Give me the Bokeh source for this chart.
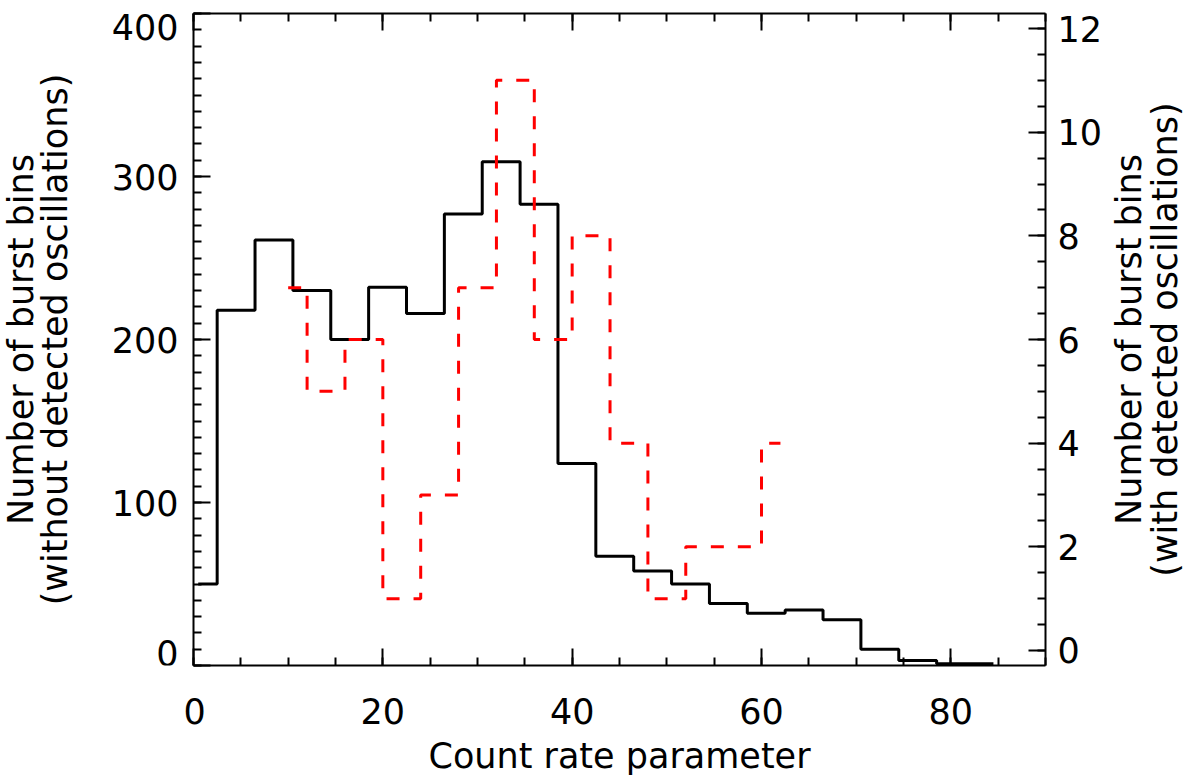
import math
from bokeh.plotting import figure
from bokeh.layouts import row
from bokeh.models import Range1d, LinearAxis, SingleIntervalTicker, CustomJSTickFormatter, ColumnDataSource
from bokeh.core.properties import value
from bokeh.embed import file_html
from bokeh.resources import INLINE

# Black histogram (without detected oscillations), left axis
black_x = [0.5, 4.5, 8.5, 12.5, 16.5, 20.5, 24.5, 28.5, 32.5, 36.5, 40.5,
           44.5, 48.5, 52.5, 56.5, 60.5, 64.5, 68.5, 72.5, 76.5, 80.5, 84.5]
black_y = [50, 218, 261, 230, 200, 232, 216, 277, 309, 283, 124,
           67, 58, 50, 38, 32, 34, 28, 10, 3, 1, 1]

# Red dashed histogram (with detected oscillations), right axis
red_x = [10, 14, 18, 22, 26, 30, 34, 38, 42, 46, 50, 54, 58, 62]
red_y = [7, 5, 6, 1, 3, 7, 11, 6, 8, 4, 1, 2, 2, 4]

left_tick_values = [0, 100, 200, 300, 400]
left_tick_labels = ["0", "100", "200", "300", "400"]

x_label = "Count rate parameter"
left_label_lines = ["Number of burst bins", "(without detected oscillations)"]
right_label_lines = ["Number of burst bins", "(with detected oscillations)"]

FONT = "DejaVu Sans"
FS = "35px"

H = 781
TOP, BOTTOM = 13, 116
MAIN_LEFT_BORDER = 10
LEFT_W = 193 - MAIN_LEFT_BORDER      # width of the left title/tick-label strip
MAIN_W = MAIN_LEFT_BORDER + 852 + 65  # main figure (frame 852 px wide)
RIGHT_W = 1194 - LEFT_W - MAIN_W
Y0, Y1 = 0, 400

blank = CustomJSTickFormatter(code="return ''")


def bare(fig):
    fig.xgrid.visible = False
    fig.ygrid.visible = False
    fig.outline_line_color = None
    fig.background_fill_color = "white"
    fig.border_fill_color = "white"


def style(ax):
    ax.axis_line_width = 2
    ax.axis_line_color = "black"
    ax.major_tick_line_width = 2
    ax.minor_tick_line_width = 2
    ax.major_tick_line_color = "black"
    ax.minor_tick_line_color = "black"
    ax.major_tick_in = 17
    ax.major_tick_out = 0
    ax.minor_tick_in = 8
    ax.minor_tick_out = 0
    ax.major_label_text_font = FONT
    ax.major_label_text_font_size = FS
    ax.major_label_text_color = "black"
    ax.axis_label_text_font = FONT
    ax.axis_label_text_font_size = FS
    ax.axis_label_text_font_style = "normal"
    ax.axis_label_text_color = "black"


# ---------------- main figure ----------------
p = figure(width=MAIN_W, height=H, output_backend="svg", toolbar_location=None,
           x_range=Range1d(0, 90), y_range=Range1d(Y0, Y1),
           min_border_left=MAIN_LEFT_BORDER, min_border_right=65, min_border_top=TOP,
           min_border_bottom=BOTTOM, x_axis_location=None, y_axis_location=None)
p.extra_y_ranges = {"right": Range1d(-0.29, 12.29)}
bare(p)

xb = LinearAxis(ticker=SingleIntervalTicker(interval=20, num_minor_ticks=4), axis_label=x_label)
style(xb)
xb.major_label_standoff = 32
xb.axis_label_standoff = 9
p.add_layout(xb, "below")

xt = LinearAxis(ticker=SingleIntervalTicker(interval=20, num_minor_ticks=4), formatter=blank)
style(xt)
xt.major_label_standoff = 0
p.add_layout(xt, "above")

yl = LinearAxis(ticker=SingleIntervalTicker(interval=100, num_minor_ticks=10), formatter=blank)
style(yl)
yl.major_label_standoff = 0
p.add_layout(yl, "left")

yr = LinearAxis(ticker=SingleIntervalTicker(interval=2, num_minor_ticks=4), y_range_name="right")
style(yr)
yr.major_label_standoff = 12
p.add_layout(yr, "right")

p.step(black_x, black_y, mode="center", line_color="black", line_width=3)
p.step(red_x, red_y, mode="center", line_color="red", line_width=3,
       line_dash="13 14", y_range_name="right")

# ---------------- left strip: tick labels + two-line title ----------------
# (row() aligns the strips' frames with the main frame, so the same y range applies)
pl = figure(width=LEFT_W, height=H, output_backend="svg", toolbar_location=None,
            x_range=Range1d(0, LEFT_W), y_range=Range1d(Y0, Y1),
            min_border=0, x_axis_location=None, y_axis_location=None)
bare(pl)
# end labels are nudged inside the box, as IDL does (positive offset = down)
offsets = [-13 if v == Y0 else (13 if v == Y1 else 0) for v in left_tick_values]
src = ColumnDataSource(dict(x=[LEFT_W + MAIN_LEFT_BORDER - 15] * len(left_tick_values),
                            y=left_tick_values, t=left_tick_labels, dy=offsets))
pl.text(x="x", y="y", text="t", y_offset="dy", source=src, text_align="right",
        text_baseline="middle", text_font=value(FONT), text_font_size=FS, text_color="black")
yc = 200
pl.text(x=[20, 54], y=[yc, yc], text=left_label_lines, angle=math.pi / 2,
        text_align="center", text_baseline="middle", text_font=value(FONT),
        text_font_size=FS, text_color="black")

# ---------------- right strip: two-line title ----------------
pr = figure(width=RIGHT_W, height=H, output_backend="svg", toolbar_location=None,
            x_range=Range1d(0, RIGHT_W), y_range=Range1d(Y0, Y1),
            min_border=0, x_axis_location=None, y_axis_location=None)
bare(pr)
pr.text(x=[18, 54], y=[yc, yc], text=right_label_lines, angle=math.pi / 2,
        text_align="center", text_baseline="middle", text_font=value(FONT),
        text_font_size=FS, text_color="black")

layout = row(pl, p, pr, spacing=0)
open("out.html", "w").write(file_html(layout, INLINE))
